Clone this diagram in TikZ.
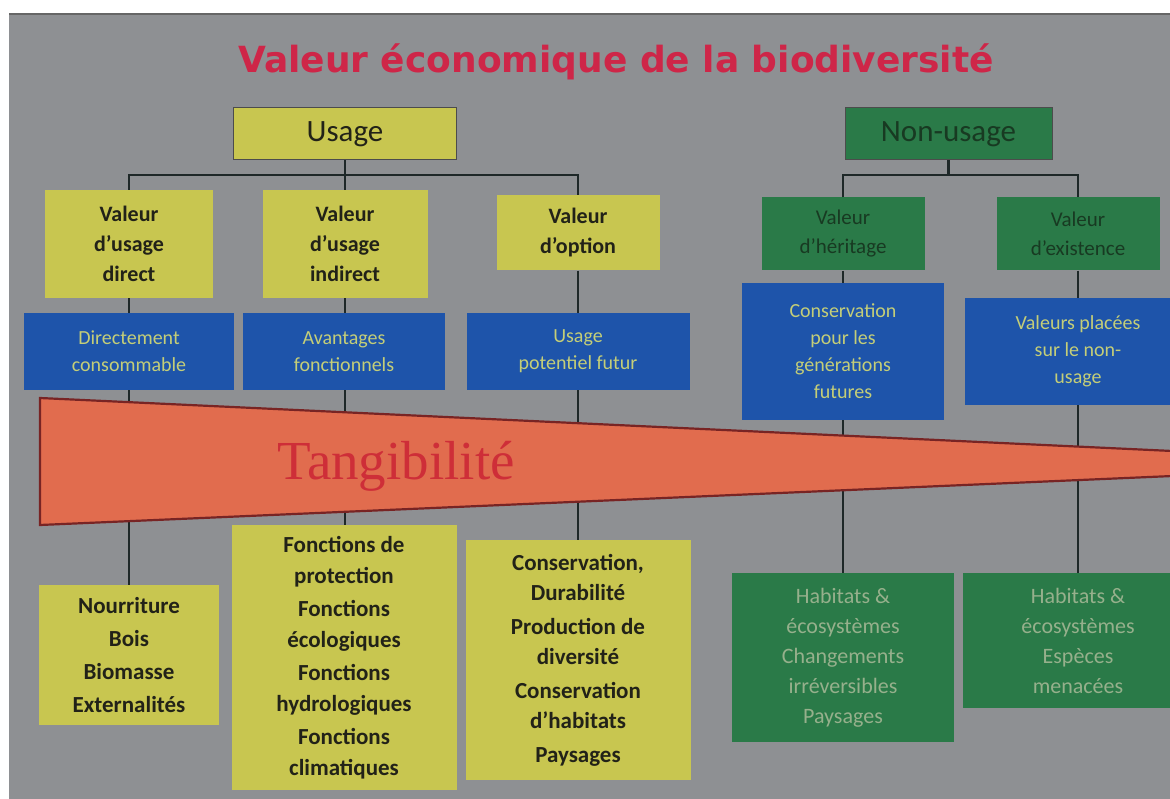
\documentclass[tikz,border=0pt]{standalone}
\usepackage{fontspec}
\setmainfont{Carlito}
\newfontfamily\titlefont{DejaVu Sans}
\newfontfamily\tangfont{Liberation Serif}
\usetikzlibrary{shapes.geometric, positioning}
\definecolor{bggray}{RGB}{142,144,147}
\definecolor{useyellow}{RGB}{200,198,80}
\definecolor{yeltext}{RGB}{34,34,24}
\definecolor{nongreen}{RGB}{42,122,72}
\definecolor{grntext}{RGB}{24,58,34}
\definecolor{grnlight}{RGB}{150,176,140}
\definecolor{blueval}{RGB}{30,84,170}
\definecolor{blutext}{RGB}{196,206,120}
\definecolor{tangorange}{RGB}{225,108,78}
\definecolor{tangedge}{RGB}{120,36,36}
\definecolor{tangred}{RGB}{206,46,56}
\definecolor{titlered}{RGB}{206,38,72}
\definecolor{linecol}{RGB}{30,40,40}
\tikzstyle{yel} = [rectangle, 
			fill=useyellow, 
			text=yeltext, 
			align=center, 
			inner sep=2pt, 
			font=\bfseries\fontsize{22}{30}\selectfont]
\tikzstyle{blu} = [rectangle, 
			fill=blueval, 
			text=blutext, 
			align=center, 
			inner sep=2pt, 
			font=\fontsize{20}{27}\selectfont]
\tikzstyle{grn} = [rectangle, 
			fill=nongreen, 
			text=grntext, 
			align=center, 
			inner sep=2pt, 
			font=\fontsize{21}{29}\selectfont]
\tikzstyle{head} = [draw=black!70, line width=1pt, font=\fontsize{31}{36}\selectfont]
\tikzstyle{line} = [draw=linecol, line width=2.4pt]

\begin{document}
\begin{tikzpicture}[x=1pt, y=-1pt]
	\useasboundingbox (0,0) rectangle (1170,799);
	\clip (0,0) rectangle (1170,799);
	\fill [bggray] (9,14) rectangle (1175,799);
	\draw [black!60, line width=1.5pt] (9,14) -- (1175,14);
	\node [font=\titlefont\bfseries\fontsize{36}{40}\selectfont, text=titlered] (title) at (616,62) {Valeur économique de la biodiversité};
	% usage side
	\node [yel, head, font=\fontsize{31}{36}\selectfont, minimum width=223, minimum height=52] (usage) at (345,134) {Usage};
	\node [yel, minimum width=168, minimum height=108] (vd) at (129,244) {Valeur\\d’usage\\direct};
	\node [yel, minimum width=165, minimum height=108] (vi) at (345,244) {Valeur\\d’usage\\indirect};
	\node [yel, minimum width=163, minimum height=75] (vo) at (578,233) {Valeur\\d’option};
	\coordinate (ujoin) at (345,175);
	\path [line] (usage) -- (ujoin);
	\path [line] (vd.north) |- (ujoin) -| (vo.north);
	\path [line] (ujoin) -- (vi.north);
	% non-usage side
	\node [grn, head, minimum width=207, minimum height=52] (nonusage) at (948.5,134) {Non-usage};
	\node [grn, minimum width=163, minimum height=73] (vh) at (843,234) {Valeur\\d’héritage};
	\node [grn, minimum width=163, minimum height=73] (ve) at (1078,234) {Valeur\\d’existence};
	\coordinate (njoin) at (948.5,175);
	\path [line] (nonusage) -- (njoin);
	\path [line] (vh.north) |- (njoin) -| (ve.north);
	% bottom boxes
	\node [yel, font=\bfseries\fontsize{23}{33}\selectfont, minimum width=180, minimum height=140] (food) at (129,655) {Nourriture\\Bois\\Biomasse\\Externalités};
	\node [yel, font=\bfseries\fontsize{23}{30.5}\selectfont, minimum width=225, minimum height=265] (func) at (344,657.5) {Fonctions de\\protection\\[3pt]Fonctions\\écologiques\\[3pt]Fonctions\\hydrologiques\\[3pt]Fonctions\\climatiques};
	\node [yel, font=\bfseries\fontsize{23}{30.5}\selectfont, minimum width=225, minimum height=240] (cons) at (578,660) {Conservation,\\Durabilité\\[3pt]Production de\\diversité\\[3pt]Conservation\\d’habitats\\[3pt]Paysages};
	\node [grn, text=grnlight, font=\fontsize{22}{30}\selectfont, minimum width=222, minimum height=169] (habA) at (843,657.5) {Habitats \&\\écosystèmes\\Changements\\irréversibles\\Paysages};
	\node [grn, text=grnlight, font=\fontsize{22}{30}\selectfont, minimum width=230, minimum height=135] (habB) at (1078,640.5) {Habitats \&\\écosystèmes\\Espèces\\menacées};
	% verticals
	\path [line] (vd.south) -- (vd.south |- food.north);
	\path [line] (vi.south) -- (vi.south |- func.north);
	\path [line] (vo.south) -- (vo.south |- cons.north);
	\path [line] (vh.south) -- (vh.south |- habA.north);
	\path [line] (ve.south) -- (ve.south |- habB.north);
	% tangibility
	\filldraw [fill=tangorange, draw=tangedge, line width=2.2pt] (40,398) -- (1450,464) -- (40,525) -- cycle;
	\node [font=\tangfont\fontsize{55}{60}\selectfont, text=tangred] (tang) at (396,466) {Tangibilité};
	% value boxes
	\node [blu, minimum width=210, minimum height=77] (direct) at (129,351.5) {Directement\\consommable};
	\node [blu, minimum width=202, minimum height=77] (avant) at (344,351.5) {Avantages\\fonctionnels};
	\node [blu, minimum width=223, minimum height=77] (futur) at (578,351.5) {Usage\\potentiel futur};
	\node [blu, minimum width=202, minimum height=137] (gener) at (843,351.5) {Conservation\\pour les\\générations\\futures};
	\node [blu, minimum width=226, minimum height=107] (place) at (1078,351.5) {Valeurs placées\\sur le non-\\usage};
\end{tikzpicture}
\end{document}
